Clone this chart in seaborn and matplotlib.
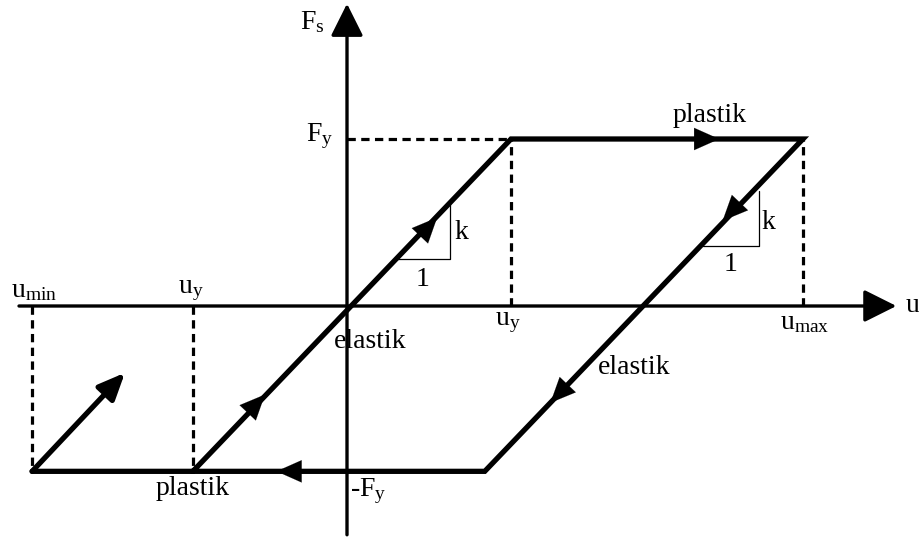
import matplotlib
matplotlib.use("Agg")
import matplotlib.pyplot as plt
import numpy as np
import pandas as pd
import seaborn as sns

sns.set_theme(style="white")
plt.rcParams.update({
    "font.family": ["Liberation Serif", "DejaVu Serif"],
    "mathtext.fontset": "custom",
    "mathtext.rm": "Liberation Serif",
    "mathtext.it": "Liberation Serif:italic",
    "font.size": 20})

# -- key values of the hysteresis loop (u in units of u_y, F in units of F_y)
u_y = 1.0
u_max = 2.78
u_min = -1.92
u_y_neg = -0.94
u_back = 0.84          # end of unloading branch at -F_y
F_y = 1.0
F_y_neg = -0.99
reload_tip = (-1.354, -0.40)

# loop path: elastic loading -> plastic -> elastic unloading -> plastic
loop_u = [u_y_neg, u_y, u_max, u_back, u_min]
loop_F = [F_y_neg, F_y, F_y, F_y_neg, F_y_neg]

# arrowheads along the path: (tip u, tip F, direction du, dF)
mid_arrows = [(-0.50, -0.53, 1, 1.04), (0.55, 0.53, 1, 1.04),
              (2.27, 1.0, 1, 0), (2.29, 0.51, -1, -1.03),
              (1.24, -0.58, -1, -1.03), (-0.43, F_y_neg, -1, 0)]

# slope triangles: (u_left, u_right, F_bottom, F_top)
triangles = [(0.29, 0.63, 0.28, 0.62), (2.17, 2.51, 0.36, 0.69)]

# dashed guides
dashed = [([0, u_y], [F_y, F_y]), ([u_y, u_y], [0, F_y]),
          ([u_max, u_max], [0, F_y]), ([u_min, u_min], [0, F_y_neg]),
          ([u_y_neg, u_y_neg], [0, F_y_neg])]

# axis extents
u_axis = (-2.0, 3.35)
F_axis = (-1.37, 1.81)

labels = [
    (-0.21, 1.70, r"$\mathrm{F_s}$", "center"),
    (-0.165, 1.02, r"$\mathrm{F_y}$", "center"),
    (-1.91, 0.09, r"$\mathrm{u_{min}}$", "center"),
    (-0.95, 0.09, r"$\mathrm{u_y}$", "center"),
    (0.98, -0.10, r"$\mathrm{u_y}$", "center"),
    (2.79, -0.10, r"$\mathrm{u_{max}}$", "center"),
    (3.40, 0.0, r"$\mathrm{u}$", "left"),
    (2.21, 1.14, "plastik", "center"),
    (-0.94, -1.09, "plastik", "center"),
    (0.02, -1.11, r"$\mathrm{\text{-}F_y}$", "left"),
    (0.14, -0.21, "elastik", "center"),
    (1.75, -0.37, "elastik", "center"),
    (0.70, 0.44, "k", "center"),
    (0.46, 0.16, "1", "center"),
    (2.57, 0.50, "k", "center"),
    (2.34, 0.25, "1", "center"),
]

fig = plt.figure(figsize=(9.19, 5.38), dpi=100)
ax = fig.add_axes([0, 0, 1, 1])
ax.set_xlim(-347 / 164, 572 / 164)
ax.set_ylim(-232 / 167, 306 / 167)
ax.axis("off")

# axes with arrowheads
for start, end in [((u_axis[0], 0), (u_axis[1], 0)), ((0, F_axis[0]), (0, F_axis[1]))]:
    ax.annotate("", xy=end, xytext=start,
                arrowprops=dict(arrowstyle="-|>,head_length=1.0,head_width=0.5",
                                lw=2.4, color="black", shrinkA=0, shrinkB=0))

for xs, ys in dashed:
    ax.plot(xs, ys, color="black", lw=2.3, ls=(0, (2.6, 1.7)))

for ul, ur, fb, ft in triangles:
    ax.plot([ul, ur, ur], [fb, fb, ft], color="black", lw=0.9)

loop = pd.DataFrame({"u": loop_u, "F": loop_F})
sns.lineplot(data=loop, x="u", y="F", sort=False, color="black", lw=3.8,
             ax=ax, solid_joinstyle="miter")

# reloading arrow
ax.annotate("", xy=reload_tip, xytext=(u_min, F_y_neg),
            arrowprops=dict(arrowstyle="-|>,head_length=0.8,head_width=0.35",
                            lw=3.8, color="black", shrinkA=0, shrinkB=0))

for tu, tf, du, df in mid_arrows:
    n = np.hypot(du, df)
    ax.annotate("", xy=(tu, tf), xytext=(tu - 0.12 * du / n, tf - 0.12 * df / n),
                arrowprops=dict(arrowstyle="-|>,head_length=0.9,head_width=0.4",
                                lw=0.1, color="black", shrinkA=0, shrinkB=0))

for x, y, t, ha in labels:
    ax.text(x, y, t, ha=ha, va="center", fontsize=20, color="black")

plt.savefig("out.png", dpi=100)
plt.close()
